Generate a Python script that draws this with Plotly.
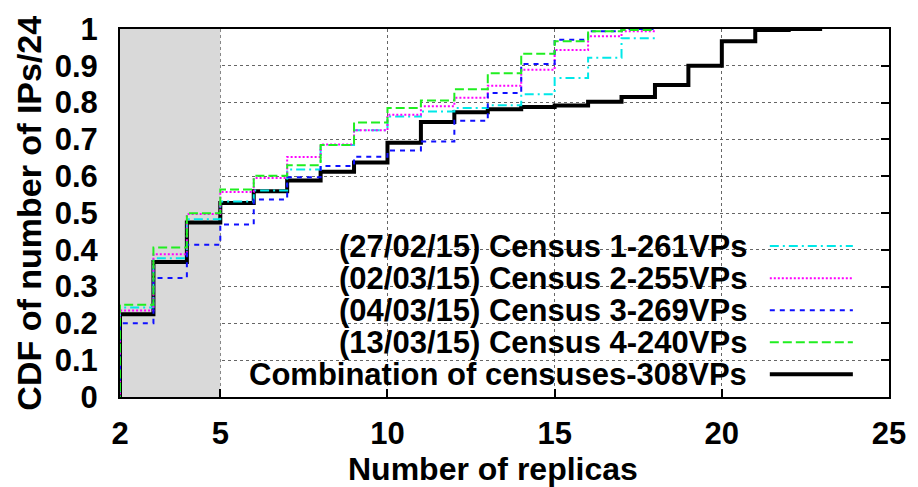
import plotly.graph_objects as go

# Number of replicas (x) for each census run, and for the combined census
replicas_census = list(range(1, 19))
replicas_combined = list(range(1, 24))

# CDF of number of IPs/24 (step values, one per replica count)
census1 = [0, 0.243, 0.377, 0.483, 0.531, 0.561, 0.618, 0.685, 0.725, 0.762,
           0.776, 0.785, 0.793, 0.823, 0.867, 0.922, 0.975, 0.975]
census2 = [0, 0.235, 0.388, 0.497, 0.557, 0.595, 0.652, 0.686, 0.725, 0.767,
           0.790, 0.813, 0.846, 0.889, 0.943, 0.980, 0.994, 0.994]
census3 = [0, 0.2005, 0.3235, 0.414, 0.469, 0.537, 0.597, 0.628, 0.653, 0.670,
           0.694, 0.751, 0.826, 0.905, 0.971, 0.994, 1.0, 1.0]
census4 = [0, 0.251, 0.406, 0.499, 0.564, 0.601, 0.630, 0.685, 0.746, 0.785,
           0.806, 0.836, 0.880, 0.933, 0.967, 0.994, 0.997, 0.997]
combined = [0, 0.2246, 0.367, 0.474, 0.527, 0.559, 0.588, 0.612, 0.637, 0.691,
            0.747, 0.774, 0.782, 0.788, 0.792, 0.802, 0.815, 0.848, 0.900, 0.967,
            0.997, 1.0, 1.0]

series_names = [
    "(27/02/15) Census 1-261VPs",
    "(02/03/15) Census 2-255VPs",
    "(04/03/15) Census 3-269VPs",
    "(13/03/15) Census 4-240VPs",
    "Combination of censuses-308VPs",
]

x_ticks = [2, 5, 10, 15, 20, 25]
y_ticks = [0, 0.1, 0.2, 0.3, 0.4, 0.5, 0.6, 0.7, 0.8, 0.9, 1]
y_ticktext = ["0", "0.1", "0.2", "0.3", "0.4", "0.5", "0.6", "0.7", "0.8", "0.9", "1"]

FONT = "Liberation Sans, Arial, sans-serif"
FS = 31

styles = [
    dict(color="#00e8e8", width=2, dash="9px,4px,2px,4px"),
    dict(color="#ff00ff", width=2, dash="2px,2px"),
    dict(color="#1010ff", width=2, dash="5px,5px"),
    dict(color="#20ee20", width=2, dash="9px,4px"),
    dict(color="#000000", width=4, dash="solid"),
]

fig = go.Figure()

# combined curve first, individual censuses on top
fig.add_trace(go.Scatter(x=replicas_combined, y=combined, mode="lines",
                         line_shape="hv", line=styles[4], name=series_names[4]))
for vals, name, st in zip([census1, census2, census3, census4], series_names[:4], styles[:4]):
    fig.add_trace(go.Scatter(x=replicas_census, y=vals, mode="lines",
                             line_shape="hv", line=st, name=name))

# invisible trace so the right-hand tick axis is rendered
fig.add_trace(go.Scatter(x=[2], y=[0], yaxis="y2", mode="markers",
                         marker=dict(opacity=0), showlegend=False, hoverinfo="skip"))

shapes = [
    # shaded region for fewer than 5 replicas
    dict(type="rect", xref="x", yref="y", x0=2, x1=5, y0=0, y1=1,
         fillcolor="#d9d9d9", line=dict(width=0), layer="between"),
    # key background
    dict(type="rect", xref="paper", yref="paper", x0=0.144, x1=0.971, y0=0.01, y1=0.456,
         fillcolor="white", line=dict(width=0), layer="between"),
]

annotations = []
row_top, row_step = 0.41, 0.087
for i, (name, st) in enumerate(zip(series_names, styles)):
    yy = row_top - i * row_step
    annotations.append(dict(xref="paper", yref="paper", x=0.818, y=yy, text=name,
                            showarrow=False, xanchor="right", yanchor="middle",
                            font=dict(family=FONT, size=FS, color="black", weight="bold")))
    shapes.append(dict(type="line", xref="paper", yref="paper", x0=0.845, x1=0.953,
                       y0=yy, y1=yy, line=st, layer="above"))

annotations.append(dict(xref="paper", yref="paper", x=0.485, y=-0.196,
                        text="Number of replicas", showarrow=False,
                        xanchor="center", yanchor="middle",
                        font=dict(family=FONT, size=32, color="black", weight="bold")))
annotations.append(dict(xref="paper", yref="paper", x=-0.118, y=0.499,
                        text="CDF of number of IPs/24", showarrow=False, textangle=-90,
                        xanchor="center", yanchor="middle",
                        font=dict(family=FONT, size=34, color="black", weight="bold")))

fig.update_layout(
    width=918, height=487,
    margin=dict(l=120, r=21, t=23, b=90),
    paper_bgcolor="white", plot_bgcolor="white",
    showlegend=False,
    shapes=shapes, annotations=annotations,
    xaxis=dict(range=[2, 25], tickvals=x_ticks, ticktext=[str(v) for v in x_ticks],
               showgrid=True, gridcolor="#666666", griddash="dot", gridwidth=1,
               zeroline=False, showline=True, linecolor="black", linewidth=2, mirror=True,
               ticks="inside", ticklen=8, tickwidth=1.5, tickcolor="black",
               ticklabelstandoff=8,
               tickfont=dict(family=FONT, size=FS, color="black", weight="bold")),
    yaxis=dict(range=[0, 1], tickvals=y_ticks, ticktext=y_ticktext,
               showgrid=True, gridcolor="#666666", griddash="dot", gridwidth=1,
               zeroline=False, showline=True, linecolor="black", linewidth=2, mirror=True,
               ticks="", ticklabelstandoff=14,
               tickfont=dict(family=FONT, size=FS, color="black", weight="bold")),
    yaxis2=dict(range=[0, 1], overlaying="y", side="right", tickvals=y_ticks,
                showticklabels=False, showgrid=False, zeroline=False,
                ticks="inside", ticklen=8, tickwidth=1.5, tickcolor="black"),
)

fig.write_html("out.html")
